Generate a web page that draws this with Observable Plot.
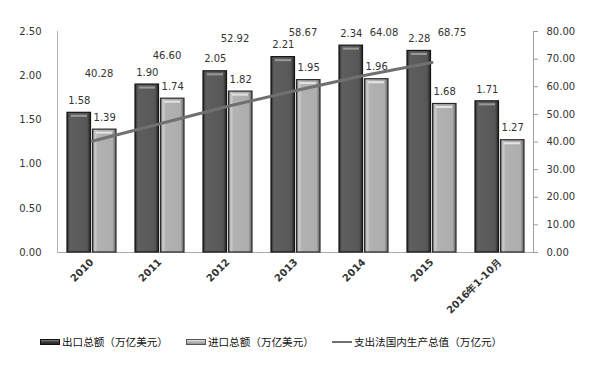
<!DOCTYPE html>
<html>
<head>
<meta charset="utf-8">
<script src="https://cdn.jsdelivr.net/npm/d3@7"></script>
<script src="https://cdn.jsdelivr.net/npm/@observablehq/plot@0.6"></script>
<style>
  body { margin: 0; background: #fff; width: 600px; height: 375px; overflow: hidden; font-family: "DejaVu Sans", sans-serif; }
  #chart svg { display: block; overflow: visible; }
  .legend { display: flex; align-items: center; padding-left: 40px; margin-top: 16px; font-family: "Noto Sans CJK SC", sans-serif; font-size: 10.6px; color: #111; }
  .legend .item { display: flex; align-items: center; margin-right: 18px; }
  .legend .sw { width: 20px; height: 6px; margin-right: 2px; box-sizing: border-box; }
  .legend .sw.dark { background: linear-gradient(#888, #444 40%, #222); border: 1px solid #111; }
  .legend .sw.light { background: linear-gradient(#eee, #bbb 40%, #999); border: 1px solid #555; }
  .legend .sw.line { height: 2px; background: #707070; }
</style>
</head>
<body>
<div id="chart"></div>
<div class="legend">
  <div class="item"><div class="sw dark"></div><span>出口总额（万亿美元）</span></div>
  <div class="item"><div class="sw light"></div><span>进口总额（万亿美元）</span></div>
  <div class="item"><div class="sw line"></div><span>支出法国内生产总值（万亿元）</span></div>
</div>
<script>
const years = ["2010", "2011", "2012", "2013", "2014", "2015", "2016年1-10月"];
const exportTotals = [1.58, 1.90, 2.05, 2.21, 2.34, 2.28, 1.71];
const importTotals = [1.39, 1.74, 1.82, 1.95, 1.96, 1.68, 1.27];
const gdpYears = ["2010", "2011", "2012", "2013", "2014", "2015"];
const gdpValues = [40.28, 46.60, 52.92, 58.67, 64.08, 68.75];
const leftTicks = [0, 0.5, 1, 1.5, 2, 2.5];
const rightTicks = [0, 10, 20, 30, 40, 50, 60, 70, 80];

const k = 2.5 / 80; // right axis -> left axis
const expData = years.map((c, i) => ({c, v: exportTotals[i]}));
const impData = years.map((c, i) => ({c, v: importTotals[i]}));
const gdpData = gdpYears.map((c, i) => ({c, v: gdpValues[i], i}));

const svg = Plot.plot({
  width: 600,
  height: 318,
  marginLeft: 57,
  marginRight: 67,
  marginTop: 31,
  marginBottom: 66,
  style: {fontFamily: "DejaVu Sans", fontSize: "10px", color: "#333", background: "transparent"},
  x: {domain: years, paddingInner: 0.28, paddingOuter: 0.14, axis: null, label: null},
  y: {domain: [0, 2.5], axis: null, label: null},
  marks: [
    Plot.ruleY([0], {stroke: "#a8a8a8"}),
    Plot.frame({anchor: "left", stroke: "#b0b0b0"}),
    Plot.frame({anchor: "right", stroke: "#a0a0a0"}),
    Plot.axisY({anchor: "left", label: null, ticks: leftTicks, tickFormat: d => d.toFixed(2), tickSize: 0, tickPadding: 16}),
    Plot.axisY({anchor: "right", label: null, ticks: rightTicks.map(v => v * k), tickFormat: d => (d / k).toFixed(2), tickSize: 4, tickPadding: 9, stroke: "#999"}),
    Plot.axisX({label: null, tickRotate: -45, tickSize: 0, tickPadding: 8, fontWeight: "bold"}),
    Plot.barY(expData, {x: "c", y: "v", insetRight: 25.5, fill: "url(#gDark)", stroke: "#151515", strokeWidth: 1.2}),
    Plot.barY(impData, {x: "c", y: "v", insetLeft: 25.5, fill: "url(#gLight)", stroke: "#2a2a2a", strokeWidth: 1.2}),
    Plot.tickY(expData, {x: "c", y: "v", dy: 3, insetRight: 29, insetLeft: 4, stroke: "#9a9a9a", strokeWidth: 2}),
    Plot.tickY(impData, {x: "c", y: "v", dy: 3, insetLeft: 29, insetRight: 4, stroke: "#e4e4e4", strokeWidth: 2}),
    Plot.line(gdpData, {x: "c", y: d => d.v * k, stroke: "#707070", strokeWidth: 3}),
    Plot.text(expData, {x: "c", y: "v", text: d => d.v.toFixed(2), dx: -12.7, dy: -12, fill: "#333"}),
    Plot.text(impData, {x: "c", y: "v", text: d => d.v.toFixed(2), dx: 12.7, dy: -12, fill: "#333"}),
    Plot.text(gdpData.filter(d => d.i < 4), {x: "c", y: d => Math.min(d.v + 24.5, 79.5) * k, text: d => d.v.toFixed(2), dx: 7, fill: "#333"}),
    Plot.text(gdpData.filter(d => d.i >= 4), {x: "c", y: d => Math.min(d.v + 24.5, 79.5) * k, text: d => d.v.toFixed(2), dx: 20, fill: "#333"})
  ]
});

d3.select(svg).insert("defs", ":first-child").html(`
  <linearGradient id="gDark" x1="0" x2="1" y1="0" y2="0">
    <stop offset="0" stop-color="#2a2a2a"/>
    <stop offset="0.12" stop-color="#5f5f5f"/>
    <stop offset="0.85" stop-color="#575757"/>
    <stop offset="1" stop-color="#262626"/>
  </linearGradient>
  <linearGradient id="gLight" x1="0" x2="1" y1="0" y2="0">
    <stop offset="0" stop-color="#5a5a5a"/>
    <stop offset="0.1" stop-color="#cfcfcf"/>
    <stop offset="0.22" stop-color="#b2b2b2"/>
    <stop offset="0.85" stop-color="#adadad"/>
    <stop offset="1" stop-color="#606060"/>
  </linearGradient>`);

document.getElementById("chart").appendChild(svg);
</script>
</body>
</html>
